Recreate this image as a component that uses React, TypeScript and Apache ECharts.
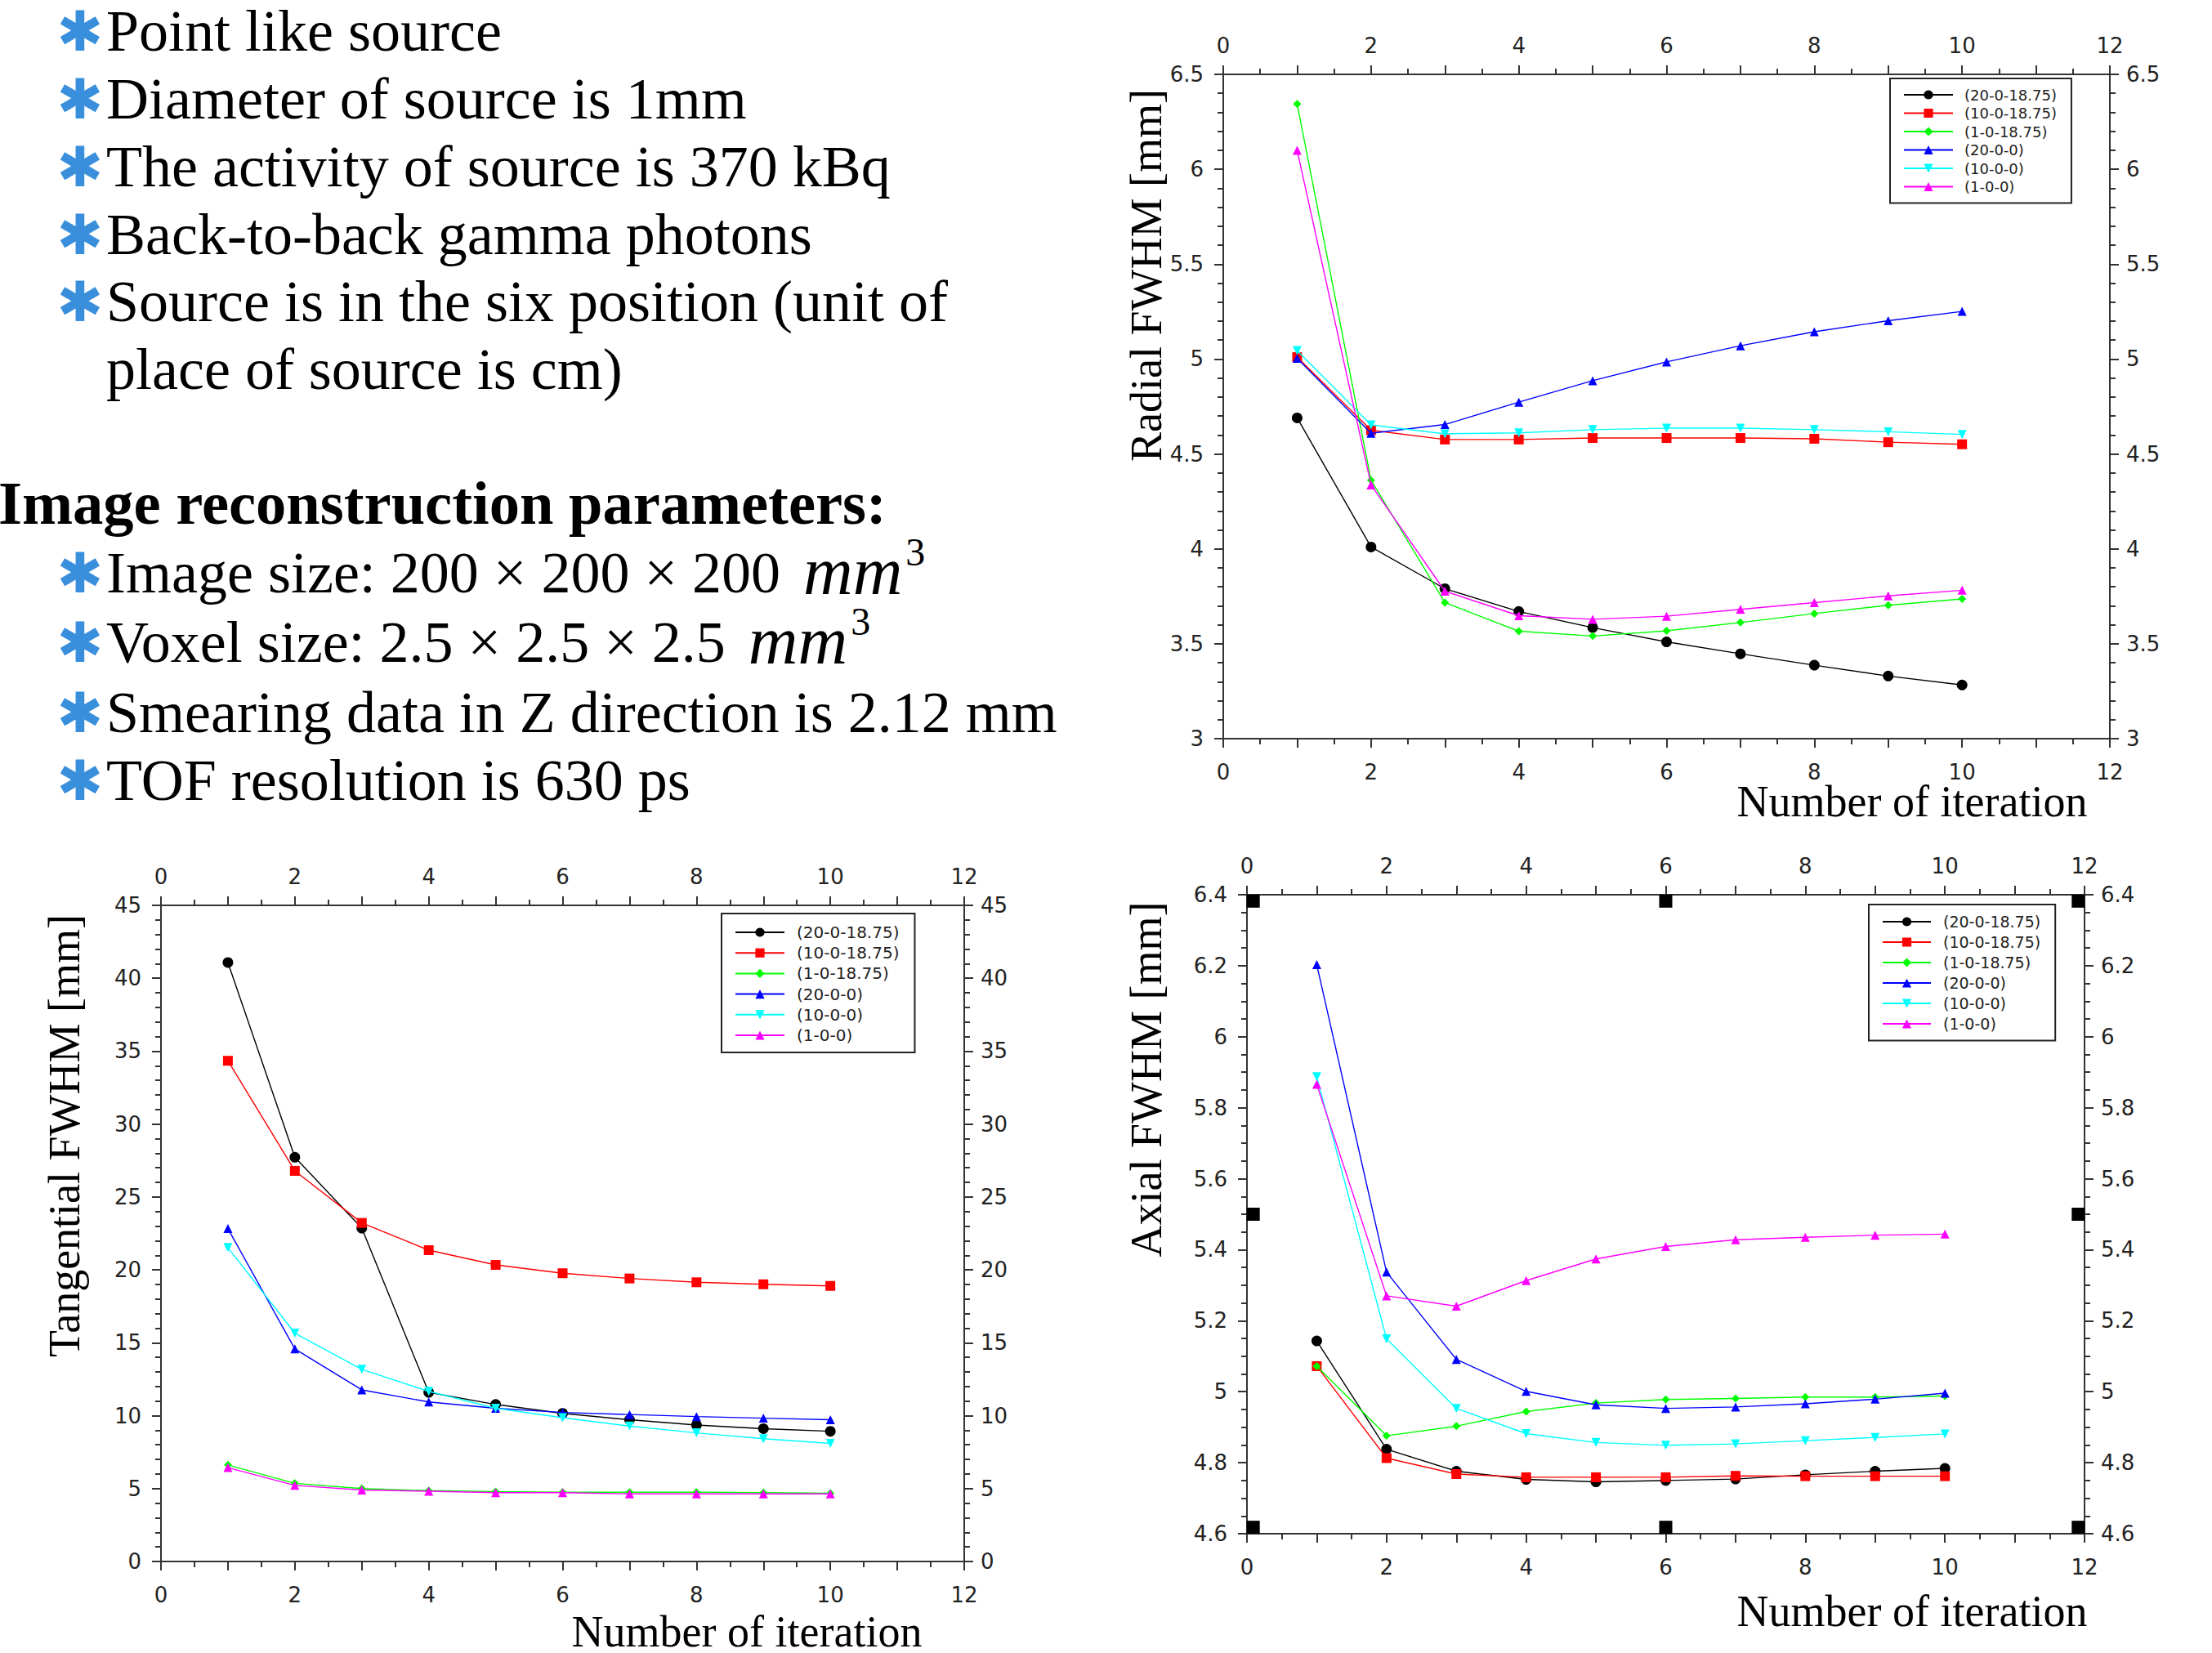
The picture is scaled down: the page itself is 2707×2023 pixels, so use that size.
import React, { useEffect, useRef } from 'react';
import * as echarts from 'echarts';

// ---------- data ----------
const iterations = [1, 2, 3, 4, 5, 6, 7, 8, 9, 10];
const seriesNames = ['(20-0-18.75)', '(10-0-18.75)', '(1-0-18.75)', '(20-0-0)', '(10-0-0)', '(1-0-0)'];

const radialBlack = [4.69, 4.01, 3.79, 3.67, 3.585, 3.51, 3.447, 3.387, 3.33, 3.283];
const radialRed = [5.01, 4.625, 4.576, 4.576, 4.584, 4.584, 4.584, 4.58, 4.562, 4.551];
const radialGreen = [6.344, 4.362, 3.717, 3.566, 3.541, 3.568, 3.612, 3.659, 3.703, 3.736];
const radialBlue = [5.004, 4.609, 4.655, 4.773, 4.886, 4.985, 5.07, 5.144, 5.202, 5.251];
const radialCyan = [5.045, 4.653, 4.606, 4.611, 4.628, 4.636, 4.636, 4.628, 4.617, 4.603];
const radialMagenta = [6.1, 4.337, 3.777, 3.648, 3.629, 3.645, 3.681, 3.717, 3.752, 3.782];

const tangBlack = [41.08, 27.72, 22.86, 11.6, 10.77, 10.16, 9.72, 9.36, 9.11, 8.93];
const tangRed = [34.34, 26.79, 23.22, 21.35, 20.34, 19.77, 19.41, 19.15, 19.01, 18.9];
const tangGreen = [6.62, 5.36, 5.0, 4.86, 4.79, 4.75, 4.75, 4.75, 4.72, 4.68];
const tangBlue = [22.83, 14.58, 11.77, 10.94, 10.51, 10.22, 10.08, 9.94, 9.83, 9.72];
const tangCyan = [21.53, 15.66, 13.18, 11.67, 10.51, 9.86, 9.29, 8.82, 8.42, 8.1];
const tangMagenta = [6.44, 5.22, 4.9, 4.82, 4.72, 4.72, 4.64, 4.64, 4.64, 4.64];

const axialBlack = [5.143, 4.838, 4.776, 4.753, 4.746, 4.75, 4.754, 4.766, 4.776, 4.784];
const axialRed = [5.072, 4.813, 4.768, 4.759, 4.759, 4.759, 4.763, 4.762, 4.762, 4.762];
const axialGreen = [5.072, 4.876, 4.903, 4.944, 4.968, 4.978, 4.981, 4.985, 4.985, 4.988];
const axialBlue = [6.203, 5.337, 5.091, 5.001, 4.963, 4.953, 4.957, 4.966, 4.979, 4.996];
const axialCyan = [5.887, 5.149, 4.953, 4.882, 4.857, 4.849, 4.853, 4.862, 4.871, 4.881];
const axialMagenta = [5.866, 5.27, 5.241, 5.313, 5.374, 5.409, 5.428, 5.435, 5.441, 5.444];

// stray black square marks on the axial plot
const axialMarkX = [0.09, 6, 11.91, 0.09, 11.91, 0.09, 6, 11.91];
const axialMarkY = [6.382, 6.382, 6.382, 5.5, 5.5, 4.618, 4.618, 4.618];

// axis ranges
const xRange = [0, 12];
const radialY = { min: 3, max: 6.5, interval: 0.5, minor: 5 };
const tangY = { min: 0, max: 45, interval: 5, minor: 5 };
const axialY = { min: 4.6, max: 6.4, interval: 0.2, minor: 4 };

const bulletLines1 = [
  'Point like source',
  'Diameter of source is 1mm',
  'The activity of source is 370 kBq',
  'Back-to-back gamma photons',
  'Source is in the six position (unit of',
];
const continuationLine = 'place of source is cm)';
const heading = 'Image reconstruction parameters:';
const bulletLines2 = [
  'Image size: 200 × 200 × 200',
  'Voxel size: 2.5 × 2.5 × 2.5',
  'Smearing data in Z direction is 2.12 mm',
  'TOF resolution is 630 ps',
];
const withUnit = [true, true, false, false];

// ---------- styles ----------
const colors = ['#000000', '#ff0000', '#00ff00', '#0000ff', '#00ffff', '#ff00ff'];
const symbols = ['circle', 'rect', 'diamond', 'triangle', 'triangle', 'triangle'];
const rotates = [0, 0, 0, 0, 180, 0];
const sizes = [13, 12, 10, 11, 11, 11];

const SERIF = '"Liberation Serif", "Times New Roman", serif';
const SANS = '"DejaVu Sans", sans-serif';

function measure(text: string, font: string): number {
  const ctx = document.createElement('canvas').getContext('2d');
  if (!ctx) return text.length * 30;
  ctx.font = font;
  return ctx.measureText(text).width;
}

function makeAxes(g: number, y: { min: number; max: number; interval: number; minor: number }) {
  const line = { show: true, onZero: false, lineStyle: { color: '#333', width: 2 } };
  const tick = { show: true, length: 11, lineStyle: { color: '#333', width: 2 } };
  const label = { color: '#222', fontFamily: SANS, fontSize: 26 };
  const xBase = (pos: string, margin: number) => ({
    type: 'value',
    gridIndex: g,
    position: pos,
    min: xRange[0],
    max: xRange[1],
    interval: 1,
    axisLine: line,
    axisTick: tick,
    minorTick: { show: true, splitNumber: 2, length: 7, lineStyle: { color: '#333', width: 2 } },
    splitLine: { show: false },
    minorSplitLine: { show: false },
    axisLabel: { ...label, margin, formatter: (v: number) => (Math.round(v) % 2 === 0 ? String(v) : '') },
  });
  const yBase = (pos: string, margin: number) => ({
    type: 'value',
    gridIndex: g,
    position: pos,
    min: y.min,
    max: y.max,
    interval: y.interval,
    axisLine: line,
    axisTick: tick,
    minorTick: { show: true, splitNumber: y.minor, length: 7, lineStyle: { color: '#333', width: 2 } },
    splitLine: { show: false },
    minorSplitLine: { show: false },
    axisLabel: { ...label, margin },
  });
  return {
    x: [xBase('bottom', 28), xBase('top', 22)],
    y: [yBase('left', 24), yBase('right', 20)],
  };
}

function makeSeries(g: number, sets: number[][]) {
  return sets.map((vals, i) => ({
    type: 'line',
    name: seriesNames[i],
    xAxisIndex: 2 * g,
    yAxisIndex: 2 * g,
    data: iterations.map((x, k) => [x, vals[k]]),
    symbol: symbols[i],
    symbolRotate: rotates[i],
    symbolSize: sizes[i],
    showAllSymbol: true,
    lineStyle: { color: colors[i], width: 1.4 },
    itemStyle: { color: colors[i] },
    z: 2 + i,
  }));
}

function makeLegend(left: number, top: number, fontSize: number, lineHeight: number, gap: number, padding: number[], itemWidth: number, textPad: number) {
  return {
    data: seriesNames,
    orient: 'vertical',
    left,
    top,
    padding,
    itemWidth,
    itemHeight: 14,
    itemGap: gap,
    selectedMode: false,
    backgroundColor: '#fff',
    borderColor: '#222',
    borderWidth: 2,
    borderRadius: 0,
    textStyle: { color: '#222', fontFamily: SANS, fontSize, lineHeight, padding: [0, 0, 0, textPad] },
  };
}

function buildGraphic() {
  const els: any[] = [];
  const textX = 130;
  const bulletX = 98;
  const bullet = (cy: number) =>
    els.push({
      type: 'text',
      x: bulletX,
      y: cy,
      style: { text: '✱', fill: '#3a8fdc', fontSize: 68, fontFamily: SANS, align: 'center', verticalAlign: 'middle', textAlign: 'center', textVerticalAlign: 'middle' },
    });
  const txt = (x: number, cy: number, text: string, extra: any = {}) =>
    els.push({
      type: 'text',
      x,
      y: cy,
      style: { text, fill: '#000', fontSize: 72, fontFamily: SERIF, align: 'left', verticalAlign: 'middle', textAlign: 'left', textVerticalAlign: 'middle', ...extra },
    });

  const centers1 = [38, 121, 204, 287, 369];
  bulletLines1.forEach((t, i) => {
    bullet(centers1[i]);
    txt(textX, centers1[i], t);
  });
  txt(textX, 452, continuationLine);
  txt(-2, 616, heading, { fontWeight: 'bold', fontSize: 74.5 });

  const centers2 = [701, 786, 872, 955];
  bulletLines2.forEach((t, i) => {
    bullet(centers2[i]);
    txt(textX, centers2[i], t);
    if (withUnit[i]) {
      const w = measure(t + ' ', `72px ${SERIF}`);
      const mx = textX + w + 10;
      txt(mx, centers2[i] - 3, 'mm', { fontStyle: 'italic', fontSize: 84 });
      const mw = measure('mm', `italic 84px ${SERIF}`);
      txt(mx + mw + 4, centers2[i] - 26, '3', { fontSize: 48 });
    }
  });

  const axisName = (x: number, y: number, text: string, rot: number) =>
    els.push({
      type: 'text',
      x,
      y,
      rotation: rot,
      style: { text, fill: '#000', fontSize: 54, fontFamily: SERIF, align: 'center', verticalAlign: 'middle', textAlign: 'center', textVerticalAlign: 'middle' },
    });
  axisName(1403, 337, 'Radial FWHM [mm]', Math.PI / 2);
  axisName(79, 1390, 'Tangential FWHM [mm]', Math.PI / 2);
  axisName(1403, 1321, 'Axial FWHM [mm]', Math.PI / 2);
  axisName(2340, 981, 'Number of iteration', 0);
  axisName(914, 1997, 'Number of iteration', 0);
  axisName(2340, 1972, 'Number of iteration', 0);
  return els;
}

export default function App() {
  const ref = useRef<HTMLDivElement>(null);
  useEffect(() => {
    if (!ref.current) return;
    const chart = echarts.init(ref.current, undefined, { renderer: 'svg' });
    const a0 = makeAxes(0, radialY);
    const a1 = makeAxes(1, tangY);
    const a2 = makeAxes(2, axialY);
    const option: any = {
      animation: false,
      backgroundColor: '#ffffff',
      grid: [
        { left: 1497, top: 91, width: 1085, height: 813 },
        { left: 197, top: 1108, width: 983, height: 803 },
        { left: 1526, top: 1095, width: 1025, height: 782 },
      ],
      xAxis: [...a0.x, ...a1.x, ...a2.x],
      yAxis: [...a0.y, ...a1.y, ...a2.y],
      legend: [
        makeLegend(2313, 96, 18, 20, 2.5, [10, 18, 10, 16], 60, 9),
        makeLegend(883, 1118, 20, 22, 3.2, [12, 19, 10, 16], 60, 10),
        makeLegend(2287, 1107, 19, 21, 4, [10.5, 18, 10, 16], 59, 10),
      ],
      series: [
        ...makeSeries(0, [radialBlack, radialRed, radialGreen, radialBlue, radialCyan, radialMagenta]),
        ...makeSeries(1, [tangBlack, tangRed, tangGreen, tangBlue, tangCyan, tangMagenta]),
        ...makeSeries(2, [axialBlack, axialRed, axialGreen, axialBlue, axialCyan, axialMagenta]),
        {
          type: 'scatter',
          name: 'marks',
          xAxisIndex: 4,
          yAxisIndex: 4,
          symbol: 'rect',
          symbolSize: 16,
          itemStyle: { color: '#000', opacity: 1 },
          silent: true,
          data: axialMarkX.map((x, i) => [x, axialMarkY[i]]),
          z: 1,
        },
      ],
      graphic: buildGraphic(),
    };
    chart.setOption(option);
    return () => chart.dispose();
  }, []);
  return (
    <div
      ref={ref}
      style={{ position: 'absolute', left: 0, top: 0, width: 2707, height: 2023, background: '#fff' }}
    />
  );
}
